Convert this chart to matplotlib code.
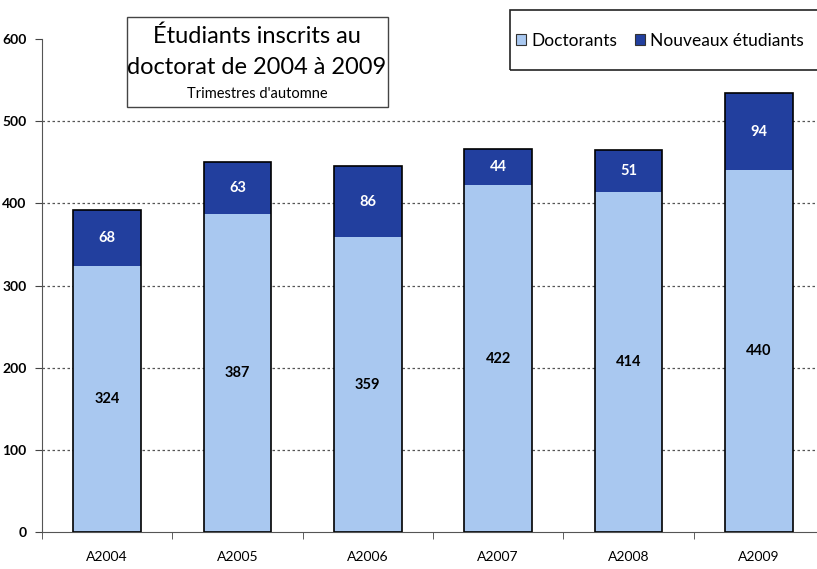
import matplotlib.pyplot as plt
from matplotlib.patches import Rectangle

years = ["A2004", "A2005", "A2006", "A2007", "A2008", "A2009"]
doctorants = [324, 387, 359, 422, 414, 440]
nouveaux = [68, 63, 86, 44, 51, 94]

light = "#a9c8f0"
dark = "#223f9e"

plt.rcParams['font.family'] = ['Lato', 'DejaVu Sans']

fig = plt.figure(figsize=(8.17, 5.69), dpi=100)
ax = fig.add_axes([0.0514, 0.065, 0.957, 0.8664])

x = list(range(len(years)))
w = 0.52
totals = [d + n for d, n in zip(doctorants, nouveaux)]

ax.bar(x, doctorants, w, color=light, edgecolor="none", zorder=2, label="Doctorants")
ax.bar(x, nouveaux, w, bottom=doctorants, color=dark, edgecolor="none", zorder=2,
       label="Nouveaux étudiants")
# black outline around the whole stack
ax.bar(x, totals, w, fill=False, edgecolor="black", linewidth=1.2, zorder=3)

for i in x:
    ax.text(i, doctorants[i] / 2, str(doctorants[i]), ha="center", va="center",
            fontsize=10.5, fontweight="bold", color="black", zorder=4)
    ax.text(i, doctorants[i] + nouveaux[i] / 2, str(nouveaux[i]), ha="center", va="center",
            fontsize=10.5, fontweight="bold", color="white", zorder=4)

ax.set_xlim(-0.5, 5.5)
ax.set_ylim(0, 600)
ax.set_yticks(range(0, 601, 100))
ax.set_xticks(x)
ax.set_xticklabels(years)
ax.set_xticks([i + 0.5 for i in range(-1, 6)], minor=True)
ax.tick_params(axis="x", which="major", length=0, pad=14, labelsize=10)
ax.tick_params(axis="x", which="minor", length=5, direction="out", color="#444444")
ax.tick_params(axis="y", length=5, direction="out", color="#444444", labelsize=10, pad=6)
for lab in ax.get_yticklabels():
    lab.set_fontweight("bold")

for y in range(100, 501, 100):
    ax.axhline(y, color="#555555", linestyle=(0, (2, 2)), linewidth=0.9, zorder=1)

for s in ["top", "right"]:
    ax.spines[s].set_visible(False)
ax.spines["left"].set_color("#555555")
ax.spines["bottom"].set_color("#555555")

# title box
fig.patches.append(Rectangle((127 / 817, 1 - 107 / 569), 261 / 817, 90 / 569,
                             transform=fig.transFigure, fill=False, edgecolor="#444444",
                             linewidth=1))
fig.text(257 / 817, 1 - 36 / 569, "Étudiants inscrits au", ha="center", va="center",
         fontsize=17)
fig.text(257 / 817, 1 - 67 / 569, "doctorat de 2004 à 2009", ha="center", va="center",
         fontsize=17)
fig.text(257 / 817, 1 - 94 / 569, "Trimestres d'automne", ha="center", va="center",
         fontsize=10.5)

# legend box
fig.patches.append(Rectangle((510 / 817, 1 - 70 / 569), 320 / 817, 60 / 569,
                             transform=fig.transFigure, fill=False, edgecolor="#222222",
                             linewidth=1.2))
leg = fig.legend(loc="center left", bbox_to_anchor=(516 / 817, 1 - 41 / 569), ncol=2,
                 frameon=False, fontsize=12.5, handlelength=0.6, handleheight=0.6,
                 handletextpad=0.3, columnspacing=1.0, borderaxespad=0, borderpad=0)
for h in leg.legend_handles:
    h.set_edgecolor("#333333")
    h.set_linewidth(0.8)

fig.savefig("out.png", dpi=100)
